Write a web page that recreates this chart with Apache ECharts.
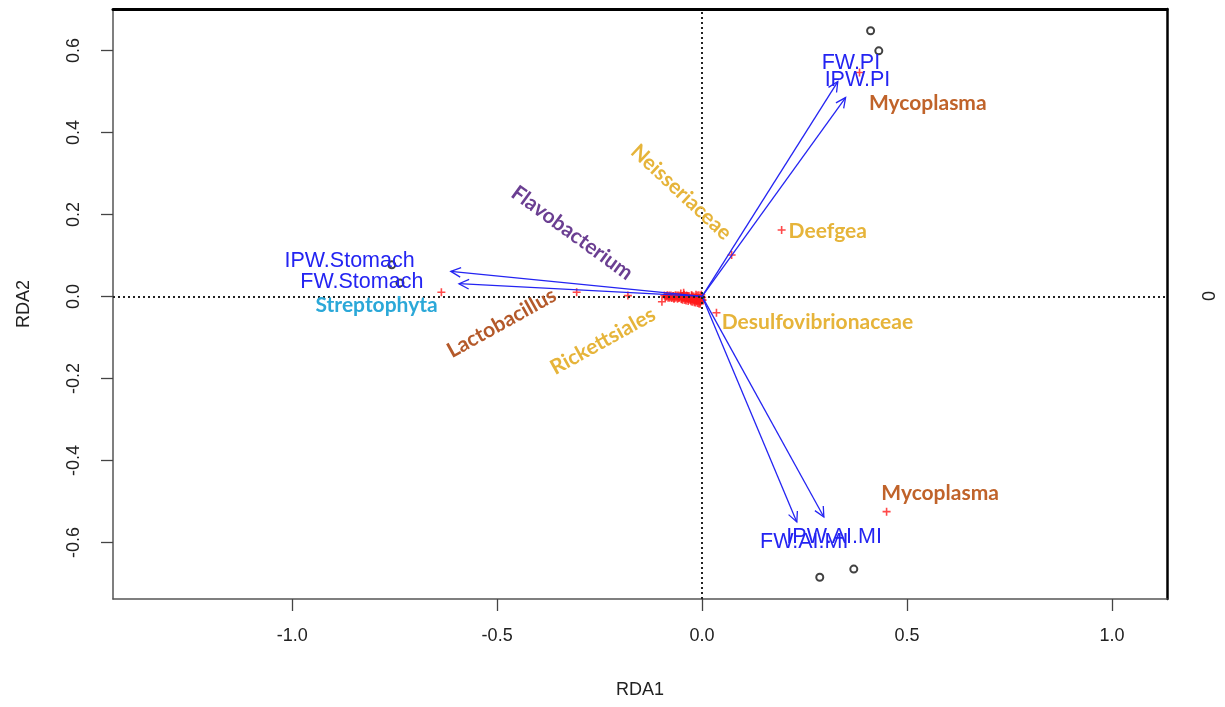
<!DOCTYPE html>
<html>
<head>
<meta charset="utf-8">
<title>RDA biplot</title>
<script src="https://cdn.jsdelivr.net/npm/echarts@6/dist/echarts.min.js"></script>
<style>
  html, body { margin: 0; padding: 0; background: #ffffff; }
  #main { width: 1225px; height: 707px; }
</style>
</head>
<body>
<div id="main"></div>
<script>
// ---- axis ticks ----
const xTicks = [-1.0, -0.5, 0.0, 0.5, 1.0];
const yTicks = [-0.6, -0.4, -0.2, 0.0, 0.2, 0.4, 0.6];

// ---- site scores (open circles) ----
const siteX = [0.411, 0.431, 0.287, 0.370, -0.757, -0.737];
const siteY = [0.648, 0.599, -0.685, -0.665, 0.077, 0.033];

// ---- environmental vectors (blue arrows) ----
const envNames = ['FW.PI', 'IPW.PI', 'IPW.Stomach', 'FW.Stomach', 'FW.AI.MI', 'IPW.AI.MI'];
const envX = [0.331, 0.350, -0.613, -0.593, 0.231, 0.297];
const envY = [0.524, 0.485, 0.061, 0.031, -0.550, -0.538];
const envLabelX = [0.363, 0.379, -0.860, -0.830, 0.249, 0.322];
const envLabelY = [0.569, 0.527, 0.085, 0.034, -0.598, -0.586];

// ---- named taxa (red crosses) ----
const speciesNames = ['Mycoplasma', 'Deefgea', 'Neisseriaceae', 'Desulfovibrionaceae',
  'Lactobacillus', 'Streptophyta', 'Rickettsiales', 'Flavobacterium', 'Mycoplasma'];
const speciesX = [0.384, 0.194, 0.072, 0.035, -0.306, -0.636, -0.098, -0.181, 0.450];
const speciesY = [0.546, 0.162, 0.101, -0.040, 0.010, 0.010, -0.013, 0.002, -0.525];
const speciesLabelX = [0.407, 0.211, -0.051, 0.048, -0.489, -0.794, -0.242, -0.317, 0.437];
const speciesLabelY = [0.472, 0.160, 0.254, -0.062, -0.065, -0.022, -0.109, 0.155, -0.480];

// ---- remaining taxa clustered near the origin ----
const minorX = [-0.092, -0.090, -0.088, -0.086, -0.085, -0.083, -0.082, -0.080, -0.079, -0.077,
  -0.076, -0.074, -0.073, -0.071, -0.070, -0.069, -0.068, -0.066, -0.065, -0.064,
  -0.062, -0.061, -0.060, -0.058, -0.057, -0.056, -0.055, -0.053, -0.052, -0.051,
  -0.050, -0.049, -0.048, -0.047, -0.046, -0.045, -0.044, -0.043, -0.042, -0.041,
  -0.040, -0.039, -0.038, -0.037, -0.036, -0.035, -0.034, -0.033, -0.032, -0.031,
  -0.030, -0.029, -0.028, -0.027, -0.026, -0.025, -0.024, -0.023, -0.022, -0.021,
  -0.020, -0.019, -0.018, -0.017, -0.016, -0.015, -0.014, -0.013, -0.012, -0.011,
  -0.010, -0.009, -0.008, -0.007, -0.006, -0.005, -0.004, -0.003, -0.002, -0.001,
  0.000, 0.001, -0.045, -0.015, -0.008, -0.025, -0.005, -0.035, -0.012, -0.002];
const minorY = [0.002, -0.002, -0.001, 0.001, 0.003, -0.003, 0.000, 0.002, -0.003, -0.001,
  0.002, -0.004, -0.002, 0.001, 0.001, -0.005, -0.005, 0.000, 0.003, -0.003,
  -0.001, 0.002, -0.006, -0.004, 0.002, -0.002, -0.003, 0.001, 0.007, -0.006,
  -0.007, 0.000, 0.001, -0.008, -0.004, 0.003, 0.004, -0.002, -0.009, -0.006,
  -0.001, -0.010, 0.002, -0.004, -0.006, 0.001, -0.011, -0.007, 0.001, -0.003,
  -0.003, -0.009, -0.008, -0.012, 0.003, -0.005, -0.013, 0.000, -0.005, -0.010,
  0.000, -0.014, -0.010, -0.006, -0.015, -0.002, -0.003, -0.012, 0.002, -0.016,
  -0.008, -0.004, -0.017, -0.011, -0.004, -0.014, 0.001, -0.012, -0.006, -0.009,
  -0.002, -0.009, 0.009, 0.004, 0.003, 0.002, -0.018, -0.001, -0.007, 0.004];

// ---- text styling for taxa labels ----
const GOLD = '#e6b43a', RUST = '#c0632a';
const speciesColor = [RUST, GOLD, GOLD, GOLD, '#b4592a', '#2ba8d8', GOLD, '#6b3f92', RUST];
const speciesAngle = [0, 0, -43, 0, 29, 0, 29, -36, 0];
const speciesAlign = ['left', 'left', 'center', 'left', 'center', 'center', 'center', 'center', 'left'];

const X_MIN = -1.437, X_MAX = 1.134;
const Y_MIN = -0.738, Y_MAX = 0.701;
const AXIS_FONT = 'Liberation Sans, Arial, sans-serif';
const TAXA_FONT = 'Lato, "Open Sans", sans-serif';
const BLUE = '#2424f2';
const RED = '#ff1a1a';
const CROSS = 'path://M4,0H6V4H10V6H6V10H4V6H0V4H4Z';

const zip = (a, b) => a.map((v, i) => [v, b[i]]);

const chart = echarts.init(document.getElementById('main'), null, { renderer: 'canvas' });

const tickFmt = v => v.toFixed(1);

chart.setOption({
  animation: false,
  backgroundColor: '#ffffff',
  grid: { left: 113, right: 58, top: 9, bottom: 108, containLabel: false },
  xAxis: [
    {
      type: 'value', min: X_MIN, max: X_MAX, position: 'bottom',
      axisLine: { show: true, onZero: false, lineStyle: { color: '#555', width: 1.5 } },
      axisTick: { show: true, length: 12, customValues: xTicks, lineStyle: { color: '#444', width: 1.3 } },
      axisLabel: { customValues: xTicks, formatter: tickFmt, fontSize: 18, fontFamily: AXIS_FONT, color: '#222', margin: 28 },
      splitLine: { show: false },
      name: 'RDA1', nameLocation: 'middle', nameGap: 82,
      nameTextStyle: { fontSize: 18, fontFamily: AXIS_FONT, color: '#222' }
    },
    {
      type: 'value', min: X_MIN, max: X_MAX, position: 'top',
      axisLine: { show: true, onZero: false, lineStyle: { color: '#000', width: 3 } },
      axisTick: { show: false }, axisLabel: { show: false }, splitLine: { show: false }
    }
  ],
  yAxis: [
    {
      type: 'value', min: Y_MIN, max: Y_MAX, position: 'left',
      axisLine: { show: true, onZero: false, lineStyle: { color: '#555', width: 1.5 } },
      axisTick: { show: true, length: 12, customValues: yTicks, lineStyle: { color: '#444', width: 1.3 } },
      axisLabel: { customValues: yTicks, formatter: tickFmt, rotate: 90, fontSize: 18, fontFamily: AXIS_FONT, color: '#222', margin: 30 },
      splitLine: { show: false },
      name: 'RDA2', nameLocation: 'middle', nameGap: 80, nameRotate: 90,
      nameTextStyle: { fontSize: 18, fontFamily: AXIS_FONT, color: '#222' }
    },
    {
      type: 'value', min: Y_MIN, max: Y_MAX, position: 'right',
      axisLine: { show: true, onZero: false, lineStyle: { color: '#000', width: 2.5 } },
      axisTick: { show: false }, axisLabel: { show: false }, splitLine: { show: false }
    }
  ],
  graphic: [
    {
      type: 'text', x: 1210, y: 296, rotation: Math.PI / 2,
      style: { text: '0', fontSize: 18, fontFamily: AXIS_FONT, fill: '#222', align: 'center', verticalAlign: 'middle' }
    }
  ],
  series: [
    {
      // taxa near the origin, plus the dotted zero reference lines
      type: 'scatter', name: 'minor taxa',
      data: zip(minorX, minorY),
      symbol: CROSS, symbolSize: 8,
      itemStyle: { color: RED }, silent: true, z: 2,
      markLine: {
        silent: true, symbol: ['none', 'none'], label: { show: false },
        lineStyle: { color: '#222', type: [2, 3], width: 2 },
        data: [{ xAxis: 0 }, { yAxis: 0 }]
      }
    },
    {
      type: 'scatter', name: 'taxa',
      data: zip(speciesX, speciesY),
      symbol: CROSS, symbolSize: 8,
      itemStyle: { color: RED }, silent: true, z: 2
    },
    {
      type: 'scatter', name: 'sites',
      data: zip(siteX, siteY),
      symbol: 'emptyCircle', symbolSize: 7,
      itemStyle: { color: '#111', borderColor: '#111', borderWidth: 1.5 }, silent: true, z: 3
    },
    {
      // environmental arrows drawn from the origin with open heads
      type: 'custom', name: 'vectors',
      data: zip(envX, envY), silent: true, z: 4,
      renderItem(params, api) {
        const o = api.coord([0, 0]);
        const e = api.coord([api.value(0), api.value(1)]);
        const ang = Math.atan2(e[1] - o[1], e[0] - o[0]);
        const L = 11, A = Math.PI / 7;
        const h1 = [e[0] - L * Math.cos(ang - A), e[1] - L * Math.sin(ang - A)];
        const h2 = [e[0] - L * Math.cos(ang + A), e[1] - L * Math.sin(ang + A)];
        const st = { stroke: BLUE, lineWidth: 1.3, fill: null };
        return {
          type: 'group',
          children: [
            { type: 'line', shape: { x1: o[0], y1: o[1], x2: e[0], y2: e[1] }, style: st },
            { type: 'polyline', shape: { points: [h1, e, h2] }, style: st }
          ]
        };
      }
    },
    {
      // vector names
      type: 'custom', name: 'vector labels',
      data: zip(envLabelX, envLabelY), silent: true, z: 5,
      renderItem(params, api) {
        const p = api.coord([api.value(0), api.value(1)]);
        return {
          type: 'text', x: p[0], y: p[1],
          style: {
            text: envNames[params.dataIndex], fill: BLUE,
            fontSize: 21.5, fontFamily: AXIS_FONT,
            align: 'center', verticalAlign: 'middle'
          }
        };
      }
    },
    {
      // taxa names
      type: 'custom', name: 'taxa labels',
      data: zip(speciesLabelX, speciesLabelY), silent: true, z: 5,
      renderItem(params, api) {
        const i = params.dataIndex;
        const p = api.coord([api.value(0), api.value(1)]);
        return {
          type: 'text', x: p[0], y: p[1],
          rotation: speciesAngle[i] * Math.PI / 180,
          style: {
            text: speciesNames[i], fill: speciesColor[i],
            fontSize: 21, fontWeight: 'bold', fontFamily: TAXA_FONT,
            align: speciesAlign[i], verticalAlign: 'middle'
          }
        };
      }
    }
  ]
});
</script>
</body>
</html>
